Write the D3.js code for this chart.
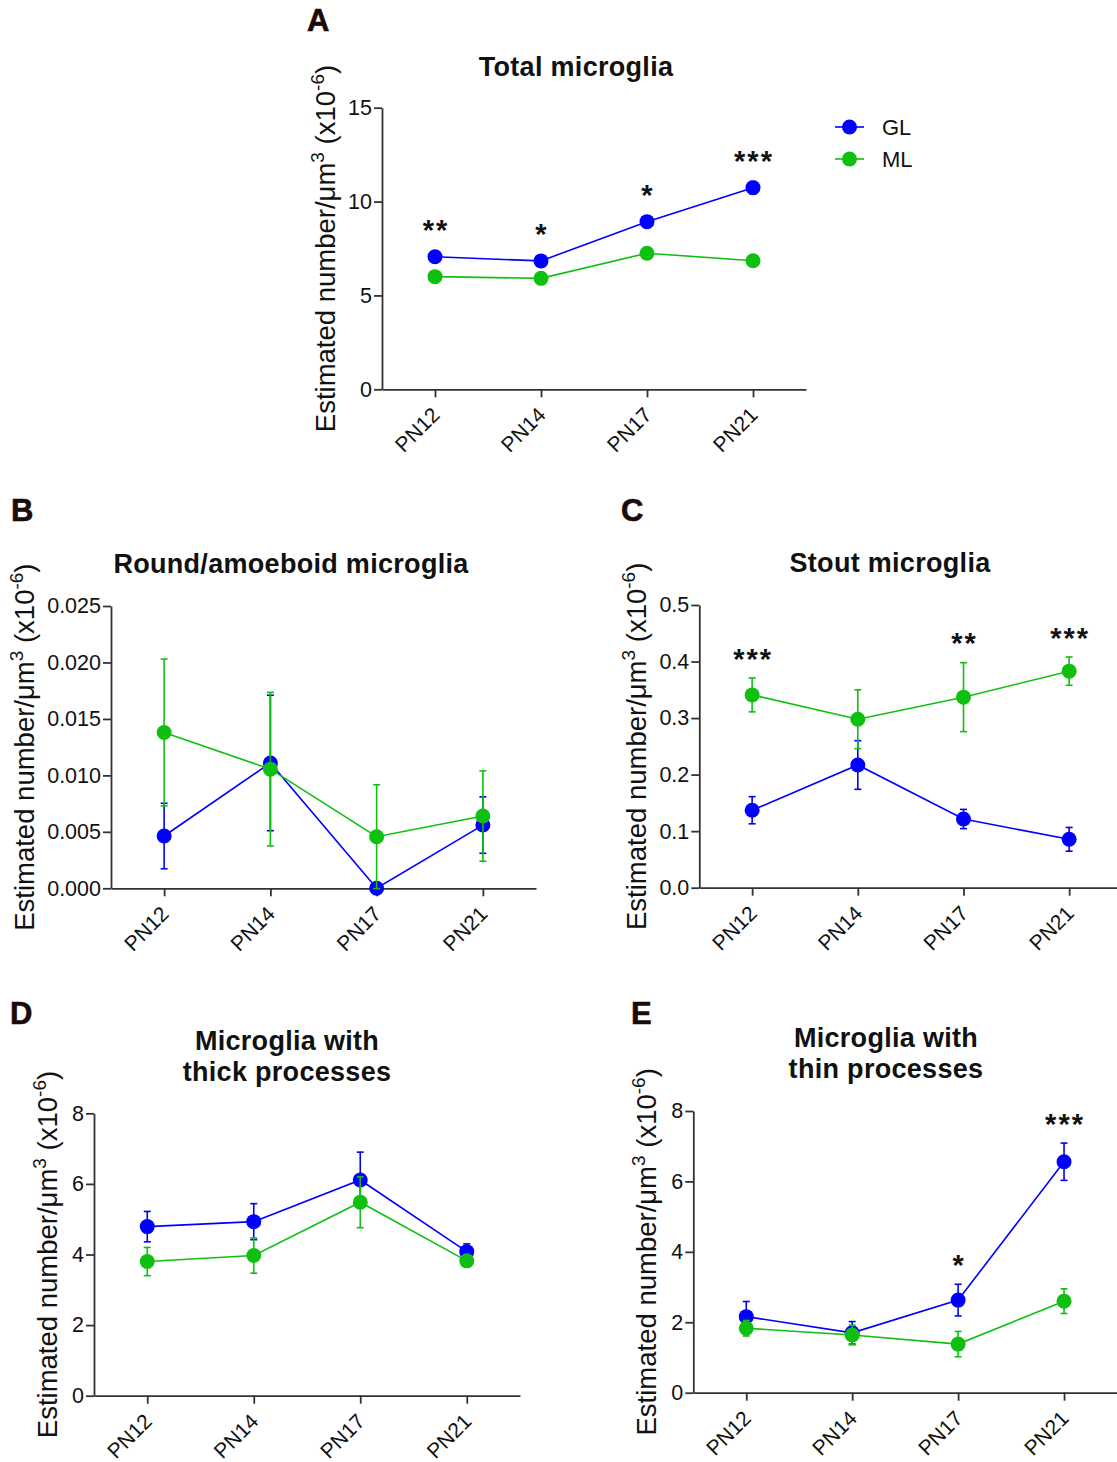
<!DOCTYPE html>
<html>
<head>
<meta charset="utf-8">
<script src="https://cdn.jsdelivr.net/npm/d3@7"></script>
<style>
  body { margin: 0; background: #fff; }
  svg { display: block; font-family: Arial, "Liberation Sans", sans-serif; }
</style>
</head>
<body>
<div id="fig"></div>
<script>
// ages on the x axis
const AGES = ["PN12", "PN14", "PN17", "PN21"];

// A - total microglia
const totalGL = [7.06, 6.84, 8.93, 10.74];
const totalGLErr = [0.15, 0.15, 0.22, 0.33];
const totalML = [6.0, 5.91, 7.25, 6.85];
const totalMLErr = [0.12, 0.12, 0.15, 0.12];
const totalStars = ["**", "*", "*", "***"];
const totalTicks = [0, 5, 10, 15];

// B - round/amoeboid
const roundGL = [0.00463, 0.0111, 0.0, 0.0056];
const roundGLErr = [0.0029, 0.006, 0.0, 0.0025];
const roundML = [0.0138, 0.01055, 0.00457, 0.0064];
const roundMLErr = [0.0065, 0.0068, 0.0046, 0.004];
const roundStars = ["", "", "", ""];
const roundTicks = [0, 0.005, 0.01, 0.015, 0.02, 0.025];

// C - stout
const stoutGL = [0.137, 0.217, 0.1215, 0.0856];
const stoutGLErr = [0.024, 0.043, 0.017, 0.021];
const stoutML = [0.341, 0.298, 0.337, 0.383];
const stoutMLErr = [0.03, 0.052, 0.061, 0.025];
const stoutStars = ["***", "", "**", "***"];
const stoutTicks = [0, 0.1, 0.2, 0.3, 0.4, 0.5];

// D - thick processes
const thickGL = [4.79, 4.93, 6.11, 4.08];
const thickGLErr = [0.43, 0.51, 0.79, 0.22];
const thickML = [3.8, 3.97, 5.48, 3.82];
const thickMLErr = [0.4, 0.5, 0.72, 0.1];
const thickStars = ["", "", "", ""];
const thickTicks = [0, 2, 4, 6, 8];

// E - thin processes
const thinGL = [2.16, 1.7, 2.63, 6.56];
const thinGLErr = [0.43, 0.32, 0.45, 0.53];
const thinML = [1.83, 1.64, 1.38, 2.6];
const thinMLErr = [0.22, 0.28, 0.36, 0.35];
const thinStars = ["", "", "*", "***"];
const thinTicks = [0, 2, 4, 6, 8];

const SERIES = ["GL", "ML"];
const COLORS = { GL: "#0000ff", ML: "#10c010" };
const AXIS = "#333";
const R = 7.5;

const svg = d3.select("#fig").append("svg")
  .attr("width", 1117)
  .attr("height", 1462);

svg.append("rect").attr("width", 1117).attr("height", 1462).attr("fill", "#fff");

// panel layout (data comes from the arrays above)
const panels = [
  { letter: "A", lx: 307, ly: 31, title: ["Total microglia"], tx: 576, ty: 76,
    left: 382, right: 806, top: 107.7, bottom: 389.3, yMax: 15, ticks: totalTicks, fmt: "d",
    labelX: 335, gl: totalGL, glErr: totalGLErr, ml: totalML, mlErr: totalMLErr, stars: totalStars },
  { letter: "B", lx: 11, ly: 521, title: ["Round/amoeboid microglia"], tx: 291, ty: 573,
    left: 111, right: 536, top: 606, bottom: 888.3, yMax: 0.025, ticks: roundTicks, fmt: ".3f",
    labelX: 34, gl: roundGL, glErr: roundGLErr, ml: roundML, mlErr: roundMLErr, stars: roundStars },
  { letter: "C", lx: 621, ly: 521, title: ["Stout microglia"], tx: 890, ty: 572,
    left: 699.3, right: 1122, top: 605, bottom: 887.7, yMax: 0.5, ticks: stoutTicks, fmt: ".1f",
    labelX: 646, gl: stoutGL, glErr: stoutGLErr, ml: stoutML, mlErr: stoutMLErr, stars: stoutStars },
  { letter: "D", lx: 10, ly: 1024, title: ["Microglia with", "thick processes"], tx: 287, ty: 1050,
    left: 94, right: 520, top: 1113.3, bottom: 1395.7, yMax: 8, ticks: thickTicks, fmt: "d",
    labelX: 57, gl: thickGL, glErr: thickGLErr, ml: thickML, mlErr: thickMLErr, stars: thickStars },
  { letter: "E", lx: 631, ly: 1024, title: ["Microglia with", "thin processes"], tx: 886, ty: 1047,
    left: 693.3, right: 1117, top: 1111, bottom: 1392.7, yMax: 8, ticks: thinTicks, fmt: "d",
    labelX: 656, gl: thinGL, glErr: thinGLErr, ml: thinML, mlErr: thinMLErr, stars: thinStars }
];

function drawPanel(p) {
  const x = d3.scalePoint().domain(AGES).range([p.left, p.right]).padding(0.5);
  const y = d3.scaleLinear().domain([0, p.yMax]).range([p.bottom, p.top]);
  const g = svg.append("g");

  // panel letter
  g.append("text").attr("x", p.lx).attr("y", p.ly)
    .attr("font-size", 31).attr("font-weight", "bold").attr("fill", "#1b0a0a")
    .attr("stroke", "#1b0a0a").attr("stroke-width", 0.6)
    .text(p.letter);

  // title
  p.title.forEach((line, i) => {
    g.append("text").attr("x", p.tx).attr("y", p.ty + i * 31)
      .attr("text-anchor", "middle").attr("font-size", 27).attr("font-weight", "bold")
      .attr("letter-spacing", 0.3).attr("fill", "#111").text(line);
  });

  // y axis
  const ya = g.append("g").attr("transform", `translate(${p.left},0)`)
    .call(d3.axisLeft(y).tickValues(p.ticks).tickFormat(d3.format(p.fmt))
      .tickSize(8).tickPadding(2).tickSizeOuter(0));

  // x axis
  const xa = g.append("g").attr("transform", `translate(0,${p.bottom})`)
    .call(d3.axisBottom(x).tickSize(8).tickSizeOuter(0));
  xa.selectAll("text").remove();

  [ya, xa].forEach((a) => {
    a.select(".domain").attr("stroke", AXIS).attr("stroke-width", 1.8);
    a.selectAll(".tick line").attr("stroke", AXIS).attr("stroke-width", 1.8);
  });
  ya.selectAll("text").attr("font-size", 21.5).attr("fill", "#111")
    .attr("font-family", "Arial, 'Liberation Sans', sans-serif");

  // rotated x labels
  g.selectAll(".xlab").data(AGES).enter().append("text")
    .attr("transform", (d) => `translate(${x(d) + 6},${p.bottom + 27}) rotate(-45)`)
    .attr("text-anchor", "end").attr("font-size", 21).attr("fill", "#111")
    .text((d) => d);

  // y label
  const yl = g.append("text")
    .attr("transform", `translate(${p.labelX},${(p.top + p.bottom) / 2}) rotate(-90)`)
    .attr("text-anchor", "middle").attr("font-size", 27.5).attr("fill", "#111");
  yl.append("tspan").text("Estimated number/\u03bcm");
  yl.append("tspan").attr("font-size", 19).attr("dy", -11).text("3");
  yl.append("tspan").attr("dy", 11).text(" (x10");
  yl.append("tspan").attr("font-size", 19).attr("dy", -11).text("-6");
  yl.append("tspan").attr("dy", 11).text(")");

  // series
  const sets = { GL: [p.gl, p.glErr], ML: [p.ml, p.mlErr] };
  SERIES.forEach((s) => {
    const vals = sets[s][0], errs = sets[s][1];
    const pts = AGES.map((a, i) => ({ a: a, v: vals[i], e: errs[i] }));
    const sg = g.append("g");
    sg.append("path").datum(pts)
      .attr("fill", "none").attr("stroke", COLORS[s]).attr("stroke-width", 1.6)
      .attr("d", d3.line().x((d) => x(d.a)).y((d) => y(d.v)));
    const eb = sg.selectAll(".eb").data(pts.filter((d) => d.e > 0)).enter().append("g")
      .attr("stroke", COLORS[s]).attr("stroke-width", 1.6);
    eb.append("line").attr("x1", (d) => x(d.a)).attr("x2", (d) => x(d.a))
      .attr("y1", (d) => y(d.v - d.e)).attr("y2", (d) => y(d.v + d.e));
    eb.append("line").attr("x1", (d) => x(d.a) - 3.5).attr("x2", (d) => x(d.a) + 3.5)
      .attr("y1", (d) => y(d.v + d.e)).attr("y2", (d) => y(d.v + d.e));
    eb.append("line").attr("x1", (d) => x(d.a) - 3.5).attr("x2", (d) => x(d.a) + 3.5)
      .attr("y1", (d) => y(d.v - d.e)).attr("y2", (d) => y(d.v - d.e));
    sg.selectAll("circle").data(pts).enter().append("circle")
      .attr("cx", (d) => x(d.a)).attr("cy", (d) => y(d.v)).attr("r", R)
      .attr("fill", COLORS[s]);
  });

  // significance stars above the highest mark
  AGES.forEach((a, i) => {
    if (!p.stars[i]) return;
    const top = Math.min(
      y(p.gl[i] + p.glErr[i]), y(p.gl[i]) - R,
      y(p.ml[i] + p.mlErr[i]), y(p.ml[i]) - R
    );
    const cy = top - 26;
    g.append("text").attr("x", x(a) + 1).attr("y", cy + 0.58 * 29)
      .attr("text-anchor", "middle").attr("font-size", 29).attr("font-weight", "bold")
      .attr("letter-spacing", 2).attr("fill", "#111").text(p.stars[i]);
  });
}

panels.forEach(drawPanel);

// legend for panel A
const legend = svg.append("g").attr("transform", "translate(835,127)");
SERIES.forEach((s, i) => {
  const lg = legend.append("g").attr("transform", `translate(0,${i * 32})`);
  lg.append("line").attr("x1", 0).attr("x2", 29).attr("stroke", COLORS[s]).attr("stroke-width", 1.6);
  lg.append("circle").attr("cx", 14.5).attr("r", R).attr("fill", COLORS[s]);
  lg.append("text").attr("x", 47).attr("y", 8).attr("font-size", 22).attr("fill", "#111").text(s);
});
</script>
</body>
</html>
